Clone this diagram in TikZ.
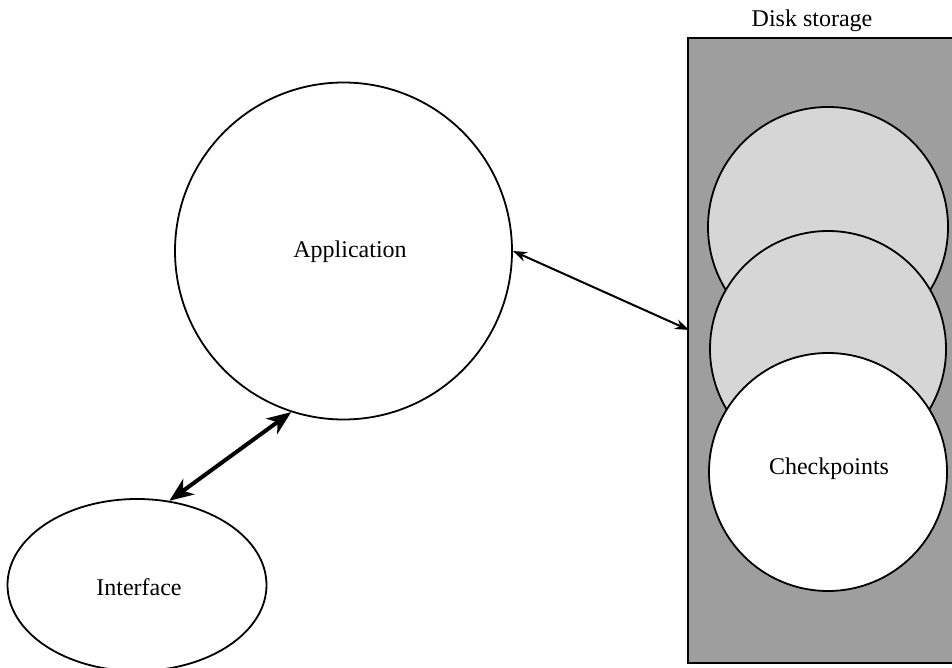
\documentclass[tikz,border=0pt]{standalone}
\usepackage{fontspec}
\setmainfont{Liberation Serif}
\usetikzlibrary{arrows.meta,shapes.geometric}
\tikzset{
  x=1pt, y=1pt,
  every node/.style={font=\fontsize{24}{28}\selectfont},
  bubble/.style={circle, draw, line width=1.8pt, inner sep=0pt},
  disk/.style={draw, line width=1.8pt, fill=black!38, inner sep=0pt},
  saved/.style={bubble, fill=black!16},
  link/.style={line width=2pt, {Stealth[length=14pt,width=10pt]}-{Stealth[length=14pt,width=10pt]}},
  thicklink/.style={line width=4pt, {Stealth[length=24pt,width=19pt,inset=7pt]}-{Stealth[length=24pt,width=19pt,inset=7pt]}}
}
\begin{document}
\begin{tikzpicture}
\useasboundingbox (0,0) rectangle (952,667);
\clip (0,0) rectangle (952,667);
% disk storage block with stacked checkpoints
\node[disk, minimum width=280pt, minimum height=625pt, anchor=north west] (store) at (687,630) {};
\node[anchor=base] (storelabel) at (812,640) {Disk storage};
\node[saved, minimum size=240pt] (ck1) at (828,440) {};
\node[saved, minimum size=236pt] (ck2) at (828,318) {};
\node[bubble, fill=white, minimum size=238pt] (ck3) at (828,195) {};
\node (cklabel) at (829,198) {Checkpoints};
% application and interface
\node[bubble, minimum size=337pt] (app) at (343.5,416) {};
\node (applabel) at (350,415) {Application};
\node[ellipse, draw, line width=1.8pt, minimum width=259pt, minimum height=172pt, inner sep=0pt] (iface) at (137,82) {};
\node (ifacelabel) at (139,80) {Interface};
% connectors
\coordinate (storein) at (689,337);
\draw[link] (app.0) -- (storein);
\draw[thicklink] (app.252) -- (iface.69);
\end{tikzpicture}
\end{document}
